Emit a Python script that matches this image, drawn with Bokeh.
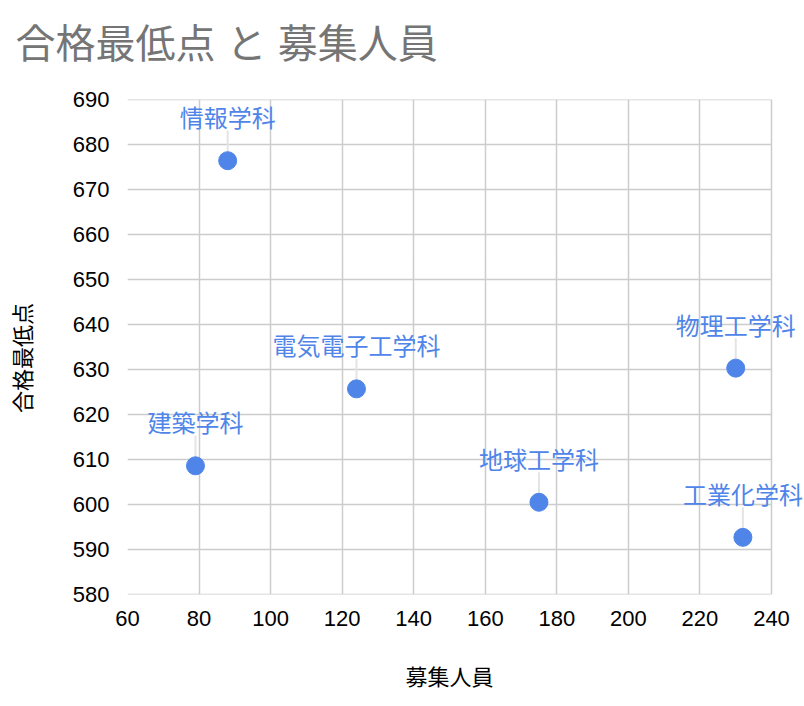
import math
from bokeh.plotting import figure
from bokeh.models import ColumnDataSource, FixedTicker, Label, Title
from bokeh.embed import file_html
from bokeh.resources import INLINE

# ---- data ----
departments = ["情報学科", "建築学科", "電気電子工学科", "地球工学科", "物理工学科", "工業化学科"]
recruits = [88, 79, 124, 175, 230, 232]          # 募集人員
min_scores = [676.4, 608.6, 625.7, 600.5, 630.3, 592.7]  # 合格最低点
x_ticks = [60, 80, 100, 120, 140, 160, 180, 200, 220, 240]
y_ticks = [580, 590, 600, 610, 620, 630, 640, 650, 660, 670, 680, 690]

BLUE = "#4f85e9"
GRID = "#cccccc"
CJK = "Noto Sans CJK JP"
LATIN = "Liberation Sans"

W, H = 804, 700
LEFT, TOP, BOTTOM = 127, 99, 106
FRAME_W = 644  # pixel width of the 60..240 span
# extend the x range past 240 so that data labels near the right edge are not clipped
x_end = x_ticks[-1] + (W - LEFT - FRAME_W) * (x_ticks[-1] - x_ticks[0]) / FRAME_W

src = ColumnDataSource(dict(x=recruits, y=min_scores, name=departments))

p = figure(width=W, height=H,
           x_range=(x_ticks[0], x_end), y_range=(y_ticks[0], y_ticks[-1]),
           output_backend="svg", toolbar_location=None,
           min_border_left=LEFT, min_border_right=0,
           min_border_top=TOP, min_border_bottom=BOTTOM)

p.title = Title(text="合格最低点 と 募集人員\n",
                text_font="Liberation Sans, Noto Sans CJK JP", text_font_size="40px",
                text_font_style="normal", text_color="#757575", align="left",
                vertical_align="top", offset=-112, standoff=2,
                text_line_height=0.7)

p.outline_line_color = None
p.background_fill_color = "white"
p.border_fill_color = "white"

for ax in (p.xaxis, p.yaxis):
    ax.axis_line_color = None
    ax.major_tick_line_color = None
    ax.minor_tick_line_color = None
    ax.major_label_text_font = LATIN
    ax.major_label_text_font_size = "22px"
    ax.major_label_text_color = "#000000"
    ax.axis_label_text_font = CJK
    ax.axis_label_text_font_size = "22px"
    ax.axis_label_text_font_style = "normal"
    ax.axis_label_text_color = "#000000"

p.xaxis.ticker = FixedTicker(ticks=x_ticks)
p.yaxis.ticker = FixedTicker(ticks=y_ticks)
# trailing wide spaces keep the axis titles centred where the reference has them
p.xaxis.axis_label = "募集人員\u3000\u2002"
p.yaxis.axis_label = "合格最低点\u3000"
p.xaxis.major_label_standoff = 10
p.yaxis.major_label_standoff = 12
p.xaxis.axis_label_standoff = 30
p.yaxis.axis_label_standoff = 33

# vertical grid lines from the axis grid; horizontal lines limited to 60..240
p.xgrid.ticker = FixedTicker(ticks=x_ticks)
p.xgrid.grid_line_color = GRID
p.xgrid.grid_line_width = 1.5
p.ygrid.grid_line_color = None
p.segment(x0=[x_ticks[0]] * len(y_ticks), y0=y_ticks,
          x1=[x_ticks[-1]] * len(y_ticks), y1=y_ticks,
          line_color=GRID, line_width=1.5)

# leader lines
p.ray(x="x", y="y", source=src, length=30, length_units="screen",
      angle=math.pi / 2, line_color="#e4e4e4", line_width=2)

# points
p.scatter(x="x", y="y", source=src, size=18, fill_color=BLUE, line_color=BLUE)

# data labels
for name, xv, yv in zip(departments, recruits, min_scores):
    p.add_layout(Label(x=xv, y=yv, text=name, y_offset=44,
                       text_align="center", text_baseline="middle",
                       text_font=CJK, text_font_size="24px", text_color=BLUE))

open("out.html", "w").write(file_html(p, INLINE))
